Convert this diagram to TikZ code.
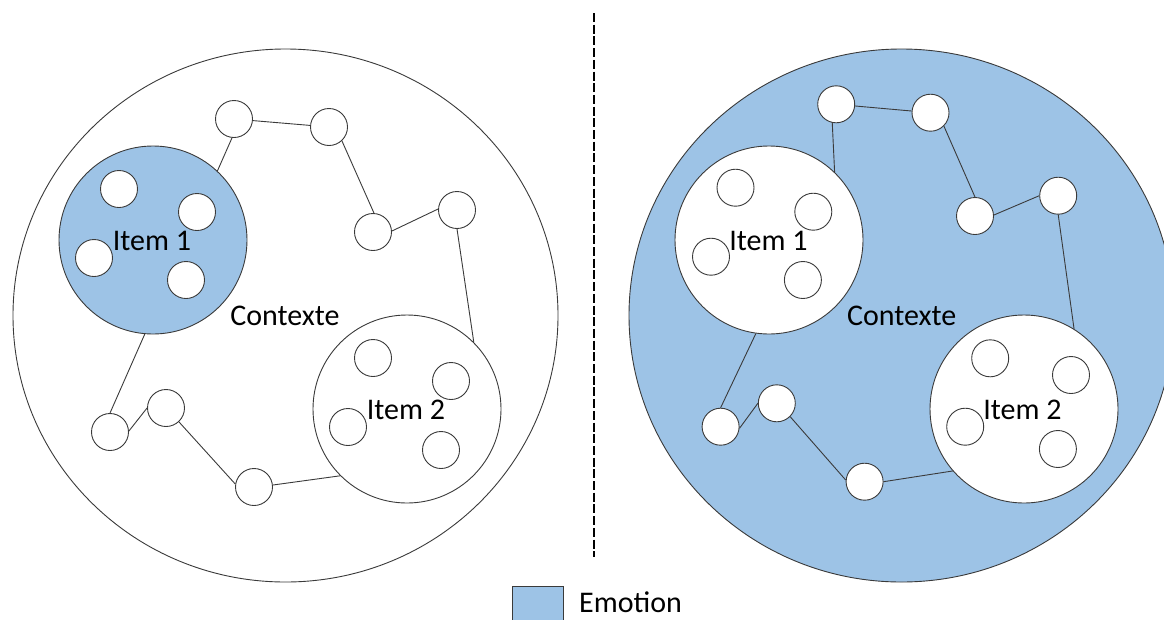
\documentclass[tikz,border=0pt]{standalone}
\usepackage{fontspec}
\setmainfont{Carlito}
\usetikzlibrary{shapes.geometric}
\definecolor{emo}{HTML}{9DC3E6}
\definecolor{edgec}{HTML}{3A3A3A}
\begin{document}
\begin{tikzpicture}[x=1pt,y=-1pt,
  ctx/.style={draw=edgec, line width=0.9pt, ellipse, minimum width=545pt, minimum height=533pt, inner sep=0pt},
  item/.style={draw=edgec, line width=0.9pt, circle, minimum size=188pt, inner sep=0pt},
  el/.style={draw=edgec, line width=0.9pt, circle, fill=white, minimum size=37pt, inner sep=0pt},
  lnk/.style={draw=edgec, line width=0.9pt},
  lbl/.style={font=\fontsize{30}{35}\selectfont, anchor=base, inner sep=0pt}]
\useasboundingbox (0,0) rectangle (1164,619);
\clip (0,0) rectangle (1164,619);
% context circles
\node[ctx] (ctxL) at (285.5,315.5) {};
\node[ctx, fill=emo] (ctxR) at (901.5,315.5) {};
% ---------- left ----------
\node[item, fill=emo] (i1L) at (153,240) {};
\node[item, fill=white] (i2L) at (407,409) {};
\node[el] (i1La) at (119,189) {};
\node[el] (i1Lb) at (197,212) {};
\node[el] (i1Lc) at (94,258) {};
\node[el] (i1Ld) at (186,280) {};
\node[el] (i2La) at (373,358) {};
\node[el] (i2Lb) at (451,381) {};
\node[el] (i2Lc) at (348,427) {};
\node[el] (i2Ld) at (441,450) {};
\node[el] (AL) at (234,119) {};
\node[el] (BL) at (329,127) {};
\node[el] (CL) at (373,232) {};
\node[el] (DL) at (457,210) {};
\node[el] (EL) at (110,432) {};
\node[el] (FL) at (166,408) {};
\node[el] (GL) at (254,487) {};
\node[lbl] (t1L) at (152,250) {Item 1};
\node[lbl] (t2L) at (406,419) {Item 2};
\node[lbl] (tcL) at (285,325) {Contexte};
\draw[lnk] (AL.-96) -- (i1L.47);
\draw[lnk] (AL) -- (BL);
\draw[lnk] (BL.-47) -- (CL.87);
\draw[lnk] (CL.3) -- (DL.177);
\draw[lnk] (DL.-90) -- (i2L.45);
\draw[lnk] (i2L.-135) -- (GL.6);
\draw[lnk] (GL.171) -- (FL.-47);
\draw[lnk] (FL.180) -- (EL.3);
\draw[lnk] (EL.90) -- (i1L.-95);
% ---------- right ----------
\node[item, fill=white] (i1R) at (769,240) {};
\node[item, fill=white] (i2R) at (1024,409) {};
\node[el] (i1Ra) at (735.5,187.7) {};
\node[el] (i1Rb) at (813.3,211.7) {};
\node[el] (i1Rc) at (711,256.7) {};
\node[el] (i1Rd) at (802.9,280) {};
\node[el] (i2Ra) at (990.2,358.3) {};
\node[el] (i2Rb) at (1071,375) {};
\node[el] (i2Rc) at (965.2,426.7) {};
\node[el] (i2Rd) at (1057.9,449) {};
\node[el] (AR) at (836.2,104.3) {};
\node[el] (BR) at (930.5,112.7) {};
\node[el] (CR) at (975,216) {};
\node[el] (DR) at (1058.2,195.7) {};
\node[el] (ER) at (720.6,426.7) {};
\node[el] (FR) at (776.8,403.3) {};
\node[el] (GR) at (864.6,481.7) {};
\node[lbl] (t1R) at (768.5,250) {Item 1};
\node[lbl] (t2R) at (1022.5,419) {Item 2};
\node[lbl] (tcR) at (901.7,325.7) {Contexte};
\draw[lnk] (AR.-102) -- (i1R.46);
\draw[lnk] (AR) -- (BR);
\draw[lnk] (BR.-45) -- (CR.90);
\draw[lnk] (CR.3) -- (DR.180);
\draw[lnk] (DR.-90) -- (i2R.58);
\draw[lnk] (i2R.-139) -- (GR.0);
\draw[lnk] (GR.175) -- (FR.-45);
\draw[lnk] (FR.180) -- (ER.-5);
\draw[lnk] (ER.90) -- (i1R.-98);
% ---------- separator ----------
\coordinate (dtop) at (594,13);
\coordinate (dbot) at (594,557);
\draw[line width=2.6pt, dash pattern=on 9pt off 2.7pt] (dtop) -- (dbot);
% ---------- legend ----------
\node[draw=edgec, line width=0.9pt, fill=emo, minimum width=51pt, minimum height=40pt, inner sep=0pt, anchor=north west] (leg) at (512,586) {};
\node[lbl, anchor=base west] (legt) at (579,612) {Emotion};
\end{tikzpicture}
\end{document}
